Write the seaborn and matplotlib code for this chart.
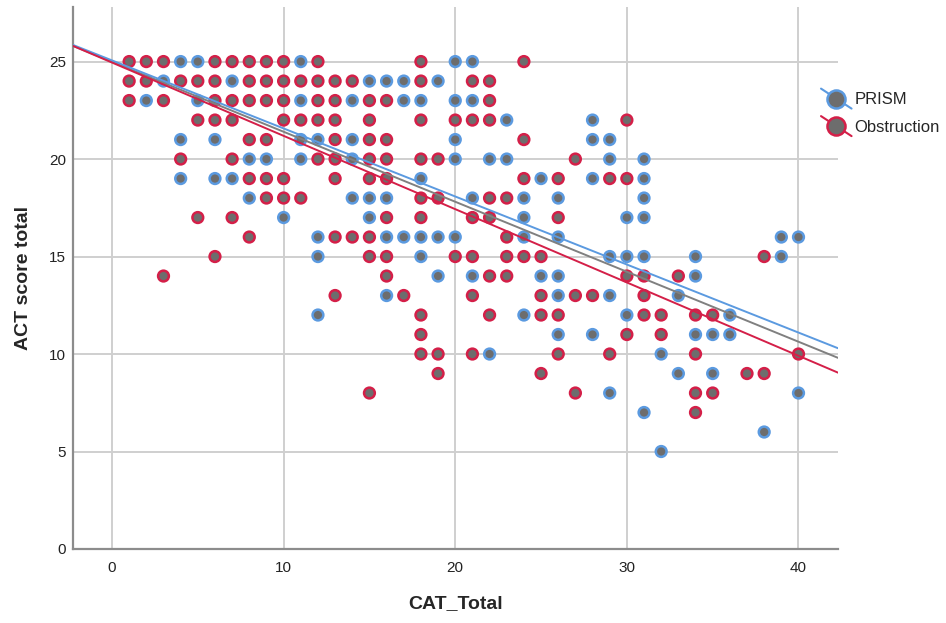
import numpy as np
import pandas as pd
import matplotlib
matplotlib.use("Agg")
import matplotlib.pyplot as plt
import seaborn as sns
from matplotlib.lines import Line2D
from matplotlib.legend_handler import HandlerBase

sns.set_style("white")
plt.rcParams["font.family"] = ["Liberation Sans", "DejaVu Sans"]

# ── data: (CAT_Total, ACT score total) per group ────────────────────────────
prism_cat = [4, 5, 11, 20, 21,
             3, 7, 15, 16, 17, 19,
             2, 5, 11, 14, 17, 18, 20, 21,
             23, 28,
             4, 6, 11, 12, 14, 20, 28, 29,
             8, 9, 11, 14, 20, 22, 23, 29, 31,
             4, 6, 7, 18, 25, 28, 31,
             8, 14, 15, 16, 21, 24, 26, 31,
             10, 15, 24, 30, 31,
             12, 16, 17, 18, 19, 20, 24, 26, 39, 40,
             12, 18, 29, 30, 31, 34, 39,
             19, 21, 25, 26, 34,
             16, 26, 29, 33,
             12, 24, 30, 36,
             26, 28, 34, 35, 36,
             22, 32,
             33, 35,
             29, 40,
             31,
             38,
             32]
prism_act = ([25] * 5 + [24] * 6 + [23] * 8 + [22] * 2 + [21] * 8 + [20] * 9
             + [19] * 7 + [18] * 8 + [17] * 5 + [16] * 10 + [15] * 7 + [14] * 5
             + [13] * 4 + [12] * 4 + [11] * 5 + [10] * 2 + [9] * 2 + [8] * 2
             + [7] + [6] + [5])

obs_cat = [1, 2, 3, 6, 7, 8, 9, 10, 12, 18, 24,
           1, 2, 4, 5, 6, 8, 9, 10, 11, 12, 13, 14, 18, 21, 22,
           1, 3, 6, 7, 8, 9, 10, 12, 13, 15, 16, 22,
           5, 6, 7, 10, 11, 12, 13, 15, 18, 20, 21, 22, 30,
           8, 9, 13, 15, 16, 24,
           4, 7, 12, 13, 15, 16, 18, 19, 27,
           8, 9, 10, 13, 15, 16, 24, 26, 29, 30,
           9, 10, 11, 18, 19, 22, 23,
           5, 7, 16, 18, 21, 22, 26,
           8, 13, 14, 15, 23,
           6, 15, 16, 20, 21, 23, 24, 25, 38,
           3, 16, 22, 23, 30, 31, 33,
           13, 17, 21, 25, 27, 28, 31,
           18, 22, 25, 26, 31, 32, 34, 35,
           18, 30, 32,
           18, 19, 21, 26, 29, 34, 40,
           19, 25, 37, 38,
           15, 27, 34, 35,
           34]
obs_act = ([25] * 11 + [24] * 15 + [23] * 12 + [22] * 13 + [21] * 6 + [20] * 9
           + [19] * 10 + [18] * 7 + [17] * 7 + [16] * 5 + [15] * 9 + [14] * 7
           + [13] * 7 + [12] * 8 + [11] * 3 + [10] * 7 + [9] * 4 + [8] * 4 + [7])

groups = ["PRISM", "Obstruction"]

# fit lines as shown on the chart (many points overlap, so read them directly)
fit_names = ["Total", "PRISM", "Obstruction"]
fit_intercepts = [24.99, 25.06, 24.95]
fit_slopes = [-0.359, -0.349, -0.376]

df = pd.DataFrame({
    "CAT_Total": prism_cat + obs_cat,
    "ACT score total": prism_act + obs_act,
    "group": ["PRISM"] * len(prism_cat) + ["Obstruction"] * len(obs_cat),
})

EDGE = {"PRISM": "#5b9ae0", "Obstruction": "#d41f48", "Total": "#808080"}
FILL = "#6d6d6d"

fig = plt.figure(figsize=(9.46, 6.23), dpi=100)
ax = fig.add_axes([0.0772, 0.1188, 0.8086, 0.87])

sns.scatterplot(data=df, x="CAT_Total", y="ACT score total", hue="group",
                hue_order=groups, palette=EDGE, s=60, linewidth=1.8,
                legend=False, ax=ax, zorder=3)
# seaborn colours the face by hue; SPSS style uses grey fill with coloured ring
for coll in ax.collections:
    ec = coll.get_facecolors()
    coll.set_edgecolors(ec)
    coll.set_facecolor(FILL)

for name, b, m in zip(fit_names, fit_intercepts, fit_slopes):
    ax.axline((0, b), slope=m, color=EDGE[name], lw=1.4, zorder=4)

ax.set_xlim(-2.27, 42.3)
ax.set_ylim(0, 27.8)
ax.set_xticks([0, 10, 20, 30, 40])
ax.set_yticks([0, 5, 10, 15, 20, 25])
ax.grid(True, color="#cfcfcf", lw=1.4)
ax.set_axisbelow(True)
for side in ["top", "right"]:
    ax.spines[side].set_visible(False)
for side in ["left", "bottom"]:
    ax.spines[side].set_color("#8c8c8c")
    ax.spines[side].set_linewidth(1.6)
ax.tick_params(axis="x", length=0, pad=9, labelsize=11, colors="#222222")
ax.tick_params(axis="y", length=0, pad=5, labelsize=11, colors="#222222")
ax.set_xlabel("CAT_Total", fontsize=14, fontweight="bold", labelpad=14)
ax.set_ylabel("ACT score total", fontsize=14, fontweight="bold", labelpad=12)


class DiagHandler(HandlerBase):
    def create_artists(self, legend, orig, xd, yd, width, height, fontsize, trans):
        line = Line2D([-2, width + 2], [height + 3, -3], color=orig.get_color(), lw=1.5)
        mark = Line2D([width / 2], [height / 2], marker="o", ls="", ms=13,
                      mfc=FILL, mec=orig.get_color(), mew=1.8)
        line.set_transform(trans)
        mark.set_transform(trans)
        return [line, mark]


handles = [Line2D([], [], color=EDGE[g]) for g in groups]
fig.legend(handles, groups, loc="upper left", bbox_to_anchor=(0.862, 0.865),
           frameon=False, fontsize=12, handlelength=1.5, handletextpad=0.35,
           labelspacing=0.75, borderpad=0, handler_map={Line2D: DiagHandler()})

fig.savefig("out.png", dpi=100)
